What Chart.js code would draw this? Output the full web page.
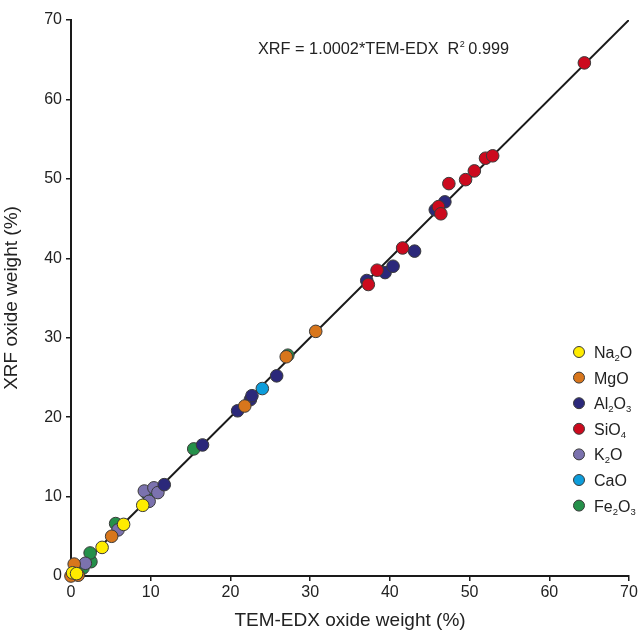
<!DOCTYPE html>
<html>
<head>
<meta charset="utf-8">
<script src="https://cdn.jsdelivr.net/npm/chart.js@4"></script>
<style>
  html, body { margin: 0; padding: 0; background: #fff; }
  #wrap { width: 642px; height: 632px; }
</style>
</head>
<body>
<div id="wrap"><canvas id="chart" width="642" height="632"></canvas></div>
<script>
// 坐标轴刻度
const axisTicks = [0, 10, 20, 30, 40, 50, 60, 70];

// 各氧化物数据 [TEM-EDX, XRF]
const na2o = [[0.2, 0.4], [0.7, 0.3], [3.9, 3.6], [6.6, 6.5], [9.0, 8.9]];
const mgo = [[0.0, 0.0], [0.4, 1.5], [0.9, 0.1], [5.1, 5.0], [21.8, 21.4], [27.0, 27.6], [30.7, 30.8]];
const al2o3 = [[11.7, 11.5], [16.5, 16.5], [20.9, 20.8], [22.5, 22.2], [22.7, 22.7], [25.8, 25.2],
               [37.1, 37.2], [39.4, 38.2], [40.4, 39.0], [43.1, 40.9], [45.7, 46.1], [46.9, 47.1]];
const sio4 = [[37.3, 36.7], [38.4, 38.5], [41.6, 41.3], [46.1, 46.5], [46.4, 45.6], [47.4, 49.4],
              [49.5, 49.9], [50.6, 51.0], [52.0, 52.6], [52.9, 52.9], [64.4, 64.6]];
const k2o = [[1.8, 1.6], [5.9, 5.8], [9.2, 10.7], [9.8, 9.4], [10.4, 11.1], [10.9, 10.5]];
const cao = [[24.0, 23.6]];
const fe2o3 = [[1.5, 1.0], [2.5, 1.8], [2.4, 2.9], [5.6, 6.6], [9.6, 10.3], [15.4, 16.0], [27.2, 27.8]];

// 回归线
const slope = 1.0002;
const fitX = [0, 70];

const FONT = '"Liberation Sans", Arial, sans-serif';

// 图例: [主体, 下标, 主体, 下标]
const legendItems = [
    { parts: ['Na', '2', 'O'], color: '#FFEC00' },
    { parts: ['MgO'], color: '#D8761C' },
    { parts: ['Al', '2', 'O', '3'], color: '#2B287A' },
    { parts: ['SiO', '4'], color: '#CC0A1E' },
    { parts: ['K', '2', 'O'], color: '#7B72AE' },
    { parts: ['CaO'], color: '#0D9DDB' },
    { parts: ['Fe', '2', 'O', '3'], color: '#25904A' }
];

function pts(arr) {
    return arr.map(p => ({ x: p[0], y: p[1] }));
}

function dotSet(label, arr, color) {
    return {
        label: label,
        data: pts(arr),
        backgroundColor: color,
        borderColor: '#3a3a3a',
        borderWidth: 1,
        pointRadius: 6.3,
        pointHoverRadius: 6.3,
        clip: false,
        order: 1
    };
}

// 图例和公式
const annotate = {
    id: 'annotate',
    afterDraw(chart) {
        const ctx = chart.ctx;
        ctx.save();
        ctx.fillStyle = '#222';
        ctx.textBaseline = 'alphabetic';

        // 公式
        ctx.font = '16.3px ' + FONT;
        let x = 258;
        const by = 54;
        const s1 = 'XRF = 1.0002*TEM-EDX  R';
        ctx.fillText(s1, x, by);
        x += ctx.measureText(s1).width;
        ctx.font = '9px ' + FONT;
        ctx.fillText('2', x + 0.5, by - 7);
        x += ctx.measureText('2').width + 4;
        ctx.font = '16.3px ' + FONT;
        ctx.fillText('0.999', x, by);

        // 图例
        const y0 = 352, step = 25.6;
        legendItems.forEach((item, i) => {
            const cy = y0 + i * step;
            ctx.beginPath();
            ctx.arc(579, cy, 5.5, 0, Math.PI * 2);
            ctx.fillStyle = item.color;
            ctx.fill();
            ctx.lineWidth = 1;
            ctx.strokeStyle = '#3a3a3a';
            ctx.stroke();
            ctx.fillStyle = '#222';
            let tx = 594;
            item.parts.forEach((part, j) => {
                const sub = j % 2 === 1;
                ctx.font = (sub ? '9.5px ' : '16px ') + FONT;
                ctx.fillText(part, tx, cy + (sub ? 9 : 6));
                tx += ctx.measureText(part).width;
            });
        });
        ctx.restore();
    }
};

const ctx = document.getElementById('chart').getContext('2d');

new Chart(ctx, {
    type: 'scatter',
    data: {
        datasets: [
            {
                type: 'line',
                label: 'fit',
                data: fitX.map(v => ({ x: v, y: v * slope })),
                borderColor: '#1a1a1a',
                borderWidth: 2,
                pointRadius: 0,
                fill: false,
                order: 10
            },
            dotSet('Na2O', na2o, legendItems[0].color),
            dotSet('MgO', mgo, legendItems[1].color),
            dotSet('SiO4', sio4, legendItems[3].color),
            dotSet('Al2O3', al2o3, legendItems[2].color),
            dotSet('K2O', k2o, legendItems[4].color),
            dotSet('Fe2O3', fe2o3, legendItems[6].color),
            dotSet('CaO', cao, legendItems[5].color)
        ]
    },
    options: {
        responsive: false,
        animation: false,
        layout: { padding: { top: 20, right: 13, left: 0, bottom: 0 } },
        scales: {
            x: {
                type: 'linear',
                min: 0,
                max: 70,
                afterBuildTicks: axis => { axis.ticks = axisTicks.map(v => ({ value: v })); },
                afterFit: axis => { axis.height = 56; },
                border: { display: true, color: '#1a1a1a', width: 2 },
                grid: { drawOnChartArea: false, drawTicks: true, tickLength: 5, color: '#1a1a1a', lineWidth: 1.5 },
                ticks: { color: '#222', font: { family: FONT, size: 16 }, padding: 2, maxRotation: 0 },
                title: { display: true, text: 'TEM-EDX oxide weight (%)', color: '#222',
                         font: { family: FONT, size: 19 }, padding: { top: 2, bottom: 0 } }
            },
            y: {
                type: 'linear',
                min: 0,
                max: 70,
                afterBuildTicks: axis => { axis.ticks = axisTicks.map(v => ({ value: v })); },
                afterFit: axis => { axis.width = 71; },
                border: { display: true, color: '#1a1a1a', width: 2 },
                grid: { drawOnChartArea: false, drawTicks: true, tickLength: 5, color: '#1a1a1a', lineWidth: 1.5 },
                ticks: { color: '#222', font: { family: FONT, size: 16 }, padding: 4 },
                title: { display: true, text: 'XRF oxide weight (%)', color: '#222',
                         font: { family: FONT, size: 19 }, padding: { top: 0, bottom: 4 } }
            }
        },
        plugins: {
            legend: { display: false },
            tooltip: { enabled: false }
        }
    },
    plugins: [annotate]
});
</script>
</body>
</html>
